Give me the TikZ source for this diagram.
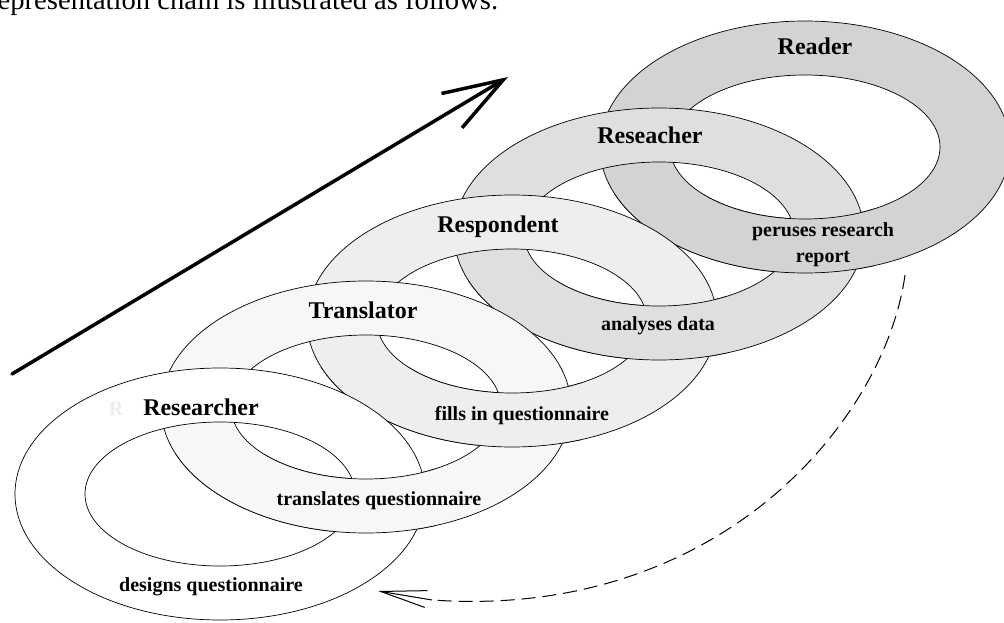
\documentclass[tikz,border=0pt]{standalone}
\usepackage{fontspec}
\setmainfont{Liberation Serif}
\usetikzlibrary{arrows.meta,positioning}
\definecolor{ringA}{HTML}{FFFFFF}
\definecolor{ringB}{HTML}{F7F7F7}
\definecolor{ringC}{HTML}{EEEEEE}
\definecolor{ringD}{HTML}{DFDFDF}
\definecolor{ringE}{HTML}{D3D3D3}
\definecolor{ghost}{HTML}{EDEDED}
\newcommand{\chainring}[2]{%
  \path[ring, fill=#2] (#1) ellipse [x radius=205pt, y radius=126pt]
                       (#1) ellipse [x radius=135pt, y radius=72pt];}
\newcommand{\lowerhalf}[1]{%
  \clip ([shift={(-215,-40)}]#1) rectangle ([shift={(215,140)}]#1);}

\begin{document}
\begin{tikzpicture}[
  x=1pt, y=-1pt,
  ring/.style={draw=black, line width=0.7pt, even odd rule},
  upper/.style={font=\bfseries\fontsize{24}{28}\selectfont, inner sep=0pt, anchor=base},
  lower/.style={font=\bfseries\fontsize{20}{26}\selectfont, inner sep=0pt, align=center},
  bigarr/.style={-{Straight Barb[length=60pt, width=40pt]}, line width=3.5pt, line cap=round},
  back/.style={dash pattern=on 14pt off 7pt, line width=1pt},
  backtip/.style={-{Straight Barb[length=46pt, width=17pt]}, line width=1pt},
]
  \useasboundingbox (0,0) rectangle (1004,623);
  \clip (0,0) rectangle (1004,623);

  \node[anchor=base west, inner sep=0pt, font=\fontsize{28.6}{34}\selectfont] (intro) at (-12,10)
    {representation chain is illustrated as follows.};

  \coordinate (c1) at (220,494);
  \coordinate (c2) at (366,407);
  \coordinate (c3) at (512,321);
  \coordinate (c4) at (659,234);
  \coordinate (c5) at (805,147);

  % rings from back to front, then the lower band of the next ring over each one
  \chainring{c5}{ringE}
  \chainring{c4}{ringD}
  \begin{scope} \lowerhalf{c4} \chainring{c5}{ringE} \end{scope}
  \chainring{c3}{ringC}
  \begin{scope} \lowerhalf{c3} \chainring{c4}{ringD} \end{scope}
  \chainring{c2}{ringB}
  \begin{scope} \lowerhalf{c2} \chainring{c3}{ringC} \end{scope}
  \chainring{c1}{ringA}
  \begin{scope} \lowerhalf{c1} \chainring{c2}{ringB} \end{scope}

  \node[upper] (reader)     at (815,55)  {Reader};
  \node[upper] (reseacher)  at (650,143) {Reseacher};
  \node[upper] (respondent) at (498,232) {Respondent};
  \node[upper] (translator) at (363,318) {Translator};
  \node[upper] (researcher) at (201,415) {Researcher};
  \node[upper, text=ghost, font=\bfseries\fontsize{20}{24}\selectfont] (ghostR) at (116,415) {R};

  \node[lower, anchor=base] (designs)    at (211,591) {designs questionnaire};
  \node[lower, anchor=base] (translates) at (379,505) {translates questionnaire};
  \node[lower, anchor=base] (fills)      at (522,420) {fills in questionnaire};
  \node[lower, anchor=base] (analyses)   at (658,330) {analyses data};
  \node[lower] (peruses) at (823,245) {peruses research\\report};

  \coordinate (tail) at (12,374);
  \coordinate (head) at (508,77);
  \draw[bigarr] (tail) -- (head);

  \coordinate (dstart) at (905,275);
  \coordinate (dend)   at (432,600);
  \coordinate (dtip)   at (378,591);
  \draw[back] (dstart) .. controls (885,420) and (720,620) .. (dend);
  \draw[backtip] (dend) -- (dtip);
\end{tikzpicture}
\end{document}
